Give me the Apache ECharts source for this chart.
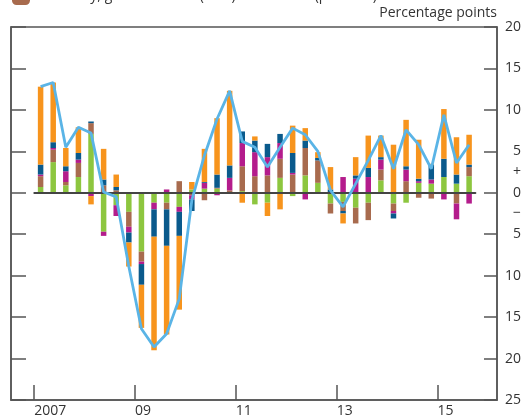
<!DOCTYPE html>
<html>
<head>
<meta charset="utf-8">
<script src="https://cdn.jsdelivr.net/npm/echarts@6/dist/echarts.min.js"></script>
<style>
  html, body { margin: 0; padding: 0; background: #fff; }
  #chart { width: 524px; height: 418px; }
</style>
</head>
<body>
<div id="chart"></div>
<script>
  // quarterly data, 2007 Q1 .. 2015 Q3
  const quarters = []
  for (let y = 2007; y <= 2015; y++) {
    for (let q = 1; q <= 4; q++) quarters.push(y + ' Q' + q)
  }
  quarters.length = 35
  const yearTicks = [2007, 2009, 2011, 2013, 2015]
  const yearLabels = ['2007', '09', '11', '13', '15']
  const yTicks = [20, 15, 10, 5, 2.5, 0, -2.5, -5, -10, -15, -20, -25]

  // contributions, percentage points
  const green = [0.7, 3.7, 0.9, 1.9, 7.1, -4.7, -1.5, -2.3, -7.1, -1.2, -1.2, -1.7, 0.4, 0.5, 0.5, 0, 0.2, -1.4, -1.2, 1.8, -0.4, 2.1, 1.2, -1.3, -1.1, -1.8, -1.2, 1.5, -1.3, -1.2, 1.2, 1.1, 1.9, 1.1, 2.0]
  const brown = [1.3, 1.5, 0.4, 1.7, 1.3, 0.9, 0.3, -1.8, -1.2, 0, -0.8, 1.4, -0.3, -0.9, 0.1, 0.3, 3.0, 2.0, 2.1, 2.3, 2.2, 3.3, 2.7, -1.2, -1.1, -1.9, -2.1, 1.3, -0.9, 1.4, -0.6, -0.7, 0, -1.3, 1.1]
  const magenta = [0.2, 0.2, 1.3, 0.4, -0.4, -0.5, -1.3, -0.7, -0.3, -0.8, 0.4, -0.6, -0.5, 0.7, -0.3, 1.5, 2.8, 2.9, 2.2, 1.9, 0.2, -0.8, 0, 0, 1.9, 1.7, 1.9, 1.2, -0.3, 1.4, 0.2, 0.5, -0.8, -1.9, -1.3]
  const blue = [1.2, 0.7, 0.6, 0.8, 0.2, 0.7, 0.4, -1.2, -2.5, -3.3, -4.4, -2.9, -1.4, 0.1, 1.6, 1.5, 1.4, 1.4, 1.6, 1.1, 2.4, 0.9, 0.3, 0.4, -0.3, 0.4, 1.1, 0.3, -0.6, 0.4, 0.3, 1.8, 2.2, 1.1, 0.3]
  const orange = [9.4, 7.2, 2.2, 3.1, -1.0, 3.7, 1.5, -2.9, -5.2, -13.7, -10.7, -8.9, 0.9, 4.0, 6.8, 9.0, -1.2, 0.5, -1.6, -2.0, 3.3, 1.5, 0.7, 2.7, -1.2, 2.2, 3.9, 2.6, 5.8, 5.6, 4.7, 0.1, 6.0, 4.5, 3.6]
  // total, per cent
  const total = [12.8, 13.3, 5.5, 7.9, 7.2, 0.1, -0.5, -8.9, -16.4, -18.6, -17.0, -12.8, -0.9, 4.5, 8.9, 12.3, 6.2, 5.5, 3.1, 5.5, 7.8, 7.0, 5.0, 0.3, -1.7, 1.1, 3.9, 6.9, 2.9, 7.6, 5.8, 2.9, 9.4, 3.6, 5.8]

  const font = 'Open Sans'
  const axisColor = '#555'

  function barSeries (name, color, arr) {
    return {
      name: name,
      type: 'bar',
      xAxisIndex: 1,
      yAxisIndex: 2,
      stack: 'contrib',
      barWidth: 5.5,
      itemStyle: { color: color },
      data: arr
    }
  }

  const chart = echarts.init(document.getElementById('chart'))

  chart.setOption({
    animation: false,
    textStyle: { fontFamily: font },
    grid: [{
      // frame
      left: 11, right: 27, top: 27, bottom: 18,
      show: true, borderColor: axisColor, borderWidth: 1.5,
      outerBoundsMode: 'none'
    }, {
      // data area, 2007 Q1 to 2015 Q3
      left: 34.3, right: 48.6, top: 27, bottom: 18,
      outerBoundsMode: 'none'
    }],
    legend: {
      data: ['Electricity, gas and water (12%)', { name: 'Total (per cent)', icon: 'none' }],
      top: -13,
      left: 12,
      padding: 0,
      itemWidth: 18,
      itemHeight: 18,
      itemGap: 20,
      textStyle: { fontFamily: font, fontSize: 14, color: '#333' }
    },
    xAxis: [{
      gridIndex: 0,
      type: 'value',
      min: 2006.54,
      max: 2016.18,
      splitLine: { show: false },
      axisLine: { onZero: false, lineStyle: { color: axisColor, width: 1.5 } },
      axisTick: {
        inside: true, length: 15, customValues: yearTicks,
        lineStyle: { color: axisColor, width: 1.5 }
      },
      axisLabel: {
        customValues: yearTicks,
        align: 'left',
        margin: 4,
        fontSize: 14,
        color: '#333',
        formatter: v => yearLabels[yearTicks.indexOf(v)]
      }
    }, {
      gridIndex: 1,
      type: 'category',
      data: quarters,
      z: 3,
      axisLine: { onZero: true, lineStyle: { color: '#444', width: 2 } },
      axisTick: { show: false },
      axisLabel: { show: false },
      splitLine: { show: false }
    }],
    yAxis: [{
      gridIndex: 0,
      type: 'value',
      position: 'left',
      min: -25, max: 20, interval: 5,
      splitLine: { show: false },
      axisLine: { show: true, lineStyle: { color: axisColor, width: 1.5 } },
      axisTick: { show: true, inside: true, length: 15, lineStyle: { color: axisColor, width: 1.5 } },
      axisLabel: { show: false }
    }, {
      gridIndex: 0,
      type: 'value',
      position: 'right',
      min: -25, max: 20, interval: 5,
      name: 'Percentage points',
      nameLocation: 'end',
      nameGap: 7,
      nameTextStyle: { align: 'right', fontSize: 14, color: '#333', fontFamily: font },
      splitLine: { show: false },
      axisLine: { show: true, lineStyle: { color: axisColor, width: 1.5 } },
      axisTick: { show: true, inside: true, length: 13, lineStyle: { color: axisColor, width: 1.5 } },
      axisLabel: {
        customValues: yTicks,
        align: 'right',
        margin: 24,
        fontSize: 14,
        color: '#333',
        formatter: v => v === 2.5 ? '+' : v === -2.5 ? '−' : String(Math.abs(v))
      }
    }, {
      gridIndex: 1,
      type: 'value',
      min: -25, max: 20,
      show: false
    }],
    series: [
      barSeries('Contribution A', '#8dc63f', green),
      barSeries('Electricity, gas and water (12%)', '#a86b4e', brown),
      barSeries('Contribution C', '#b41c8c', magenta),
      barSeries('Contribution D', '#0a5a8c', blue),
      barSeries('Contribution E', '#f7941d', orange),
      {
        name: 'Total (per cent)',
        type: 'line',
        xAxisIndex: 1,
        yAxisIndex: 2,
        z: 5,
        showSymbol: false,
        symbol: 'none',
        itemStyle: { color: '#5ab4e6' },
        lineStyle: { color: '#5ab4e6', width: 2.8 },
        data: total
      }
    ]
  })
</script>
</body>
</html>
